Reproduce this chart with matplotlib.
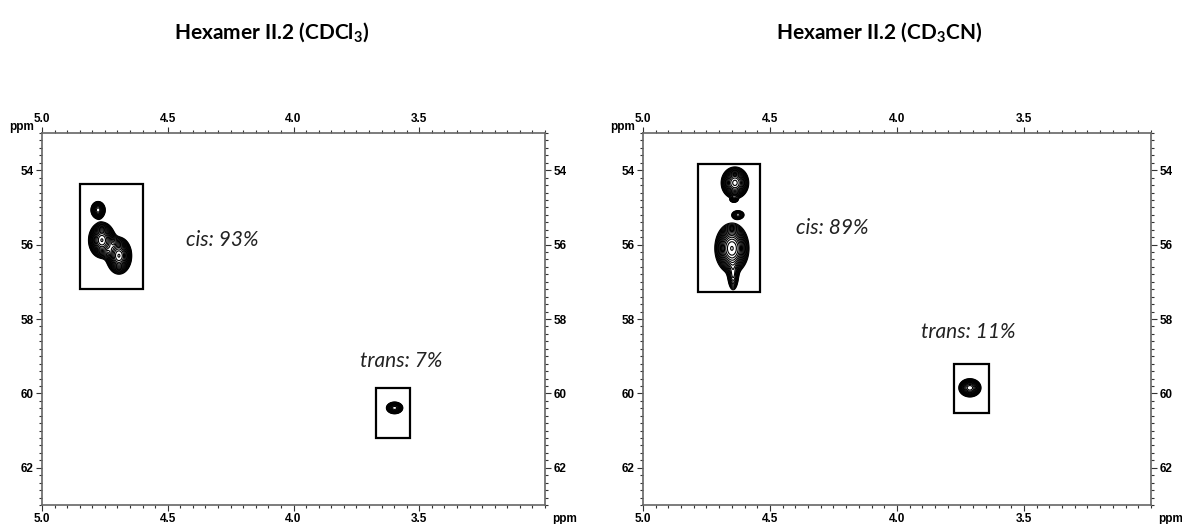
import numpy as np
import matplotlib
matplotlib.use('Agg')
import matplotlib.pyplot as plt
from matplotlib.ticker import MultipleLocator, FixedLocator, FormatStrFormatter
from matplotlib.patches import Rectangle

plt.rcParams['mathtext.fontset'] = 'custom'
plt.rcParams['mathtext.rm'] = 'Lato'
plt.rcParams['mathtext.bf'] = 'Lato:bold'

# ---- data (ppm) ----
titles = [r'Hexamer II.2 (CDCl$_\mathbf{3}$)', r'Hexamer II.2 (CD$_\mathbf{3}$CN)']
title_x = [272, 879]

h_ticks = [5.0, 4.5, 4.0, 3.5]

# peaks: centre 1H, centre 13C, full width 1H, full width 13C, relative height
peaks_cdcl3_h = [4.777, 4.762, 4.694, 3.598]
peaks_cdcl3_c = [55.07, 55.88, 56.30, 60.39]
peaks_cdcl3_wh = [0.052, 0.090, 0.086, 0.062]
peaks_cdcl3_wc = [0.42, 0.82, 0.84, 0.30]
peaks_cdcl3_amp = [0.7, 1.0, 1.0, 0.6]

peaks_cd3cn_h = [4.638, 4.642, 4.626, 4.650, 4.645, 3.713]
peaks_cd3cn_c = [54.34, 54.80, 55.20, 56.10, 56.85, 59.85]
peaks_cd3cn_wh = [0.094, 0.032, 0.055, 0.114, 0.045, 0.080]
peaks_cd3cn_wc = [0.74, 0.14, 0.26, 1.15, 0.85, 0.45]
peaks_cd3cn_amp = [0.9, 0.25, 0.3, 1.0, 0.3, 0.7]

# integration boxes: (h_left, h_right, c_top, c_bottom)
boxes_cdcl3 = [(4.85, 4.60, 54.38, 57.20), (3.672, 3.537, 59.85, 61.20)]
boxes_cd3cn = [(4.783, 4.539, 53.83, 57.27), (3.776, 3.638, 59.21, 60.53)]

labels_cdcl3 = [('cis: 93%', 4.284, 55.88), ('trans: 7%', 3.573, 59.13)]
labels_cd3cn = [('cis: 89%', 4.256, 55.55), ('trans: 11%', 3.720, 58.35)]

panels = [
    (peaks_cdcl3_h, peaks_cdcl3_c, peaks_cdcl3_wh, peaks_cdcl3_wc, peaks_cdcl3_amp, boxes_cdcl3, labels_cdcl3),
    (peaks_cd3cn_h, peaks_cd3cn_c, peaks_cd3cn_wh, peaks_cd3cn_wc, peaks_cd3cn_amp, boxes_cd3cn, labels_cd3cn),
]

fig = plt.figure(figsize=(11.82, 5.24), dpi=100)
axes_pos = [[42, 545], [643, 1151]]
W, H = 1182.0, 524.0
top_px, bot_px = 133, 505

h = np.linspace(3.0, 5.0, 1000)
c = np.linspace(53.0, 63.0, 1000)
HH, CC = np.meshgrid(h, c)

for k, (ph, pc, pwh, pwc, pamp, boxes, labels) in enumerate(panels):
    x0, x1 = axes_pos[k]
    ax = fig.add_axes([x0 / W, 1 - bot_px / H, (x1 - x0) / W, (bot_px - top_px) / H])

    Z = np.zeros_like(HH)
    for ch, cc, wh, wc, a in zip(ph, pc, pwh, pwc, pamp):
        sh, sc = wh / 3.8, wc / 3.8
        Z += a * np.exp(-((HH - ch) ** 2) / (2 * sh ** 2) - ((CC - cc) ** 2) / (2 * sc ** 2))
    levels = 0.08 * 1.17 ** np.arange(18)
    ax.contour(HH, CC, Z, levels=levels, colors='black', linewidths=0.8)

    for hl, hr, ct, cb in boxes:
        ax.add_patch(Rectangle((hr, ct), hl - hr, cb - ct, fill=False,
                               edgecolor='black', linewidth=1.6))
    for txt, tx, ty in labels:
        ax.text(tx, ty, txt, fontsize=15, family='Lato', style='italic',
                ha='center', va='center', color='#222222')

    ax.set_xlim(5.0, 3.0)
    ax.set_ylim(63.0, 53.0)
    ax.xaxis.set_major_locator(FixedLocator(h_ticks))
    ax.xaxis.set_minor_locator(MultipleLocator(0.05))
    ax.yaxis.set_major_locator(MultipleLocator(2))
    ax.yaxis.set_minor_locator(MultipleLocator(0.2))
    ax.xaxis.set_major_formatter(FormatStrFormatter('%.1f'))
    ax.yaxis.set_major_formatter(FormatStrFormatter('%d'))
    ax.tick_params(which='both', top=True, right=True, labeltop=True, labelright=True,
                   direction='out', width=0.8, color='#333333')
    ax.tick_params(which='major', length=4, pad=2, labelsize=8.5)
    ax.tick_params(which='minor', length=2)
    for lab in ax.get_xticklabels() + ax.get_yticklabels():
        lab.set_fontweight('bold')
        lab.set_family('Liberation Sans')
    for sp in ax.spines.values():
        sp.set_color('#666666')
        sp.set_linewidth(1.2)

    fig.text((x0 - 20) / W, 1 - 127 / H, 'ppm', fontsize=8.5, fontweight='bold',
             family='Liberation Sans', ha='center', va='center')
    fig.text((x1 + 20) / W, 1 - 519 / H, 'ppm', fontsize=8.5, fontweight='bold',
             family='Liberation Sans', ha='center', va='center')
    fig.text(title_x[k] / W, 1 - 33 / H, titles[k], fontsize=15, fontweight='bold',
             family='Lato', ha='center', va='center')

fig.savefig('out.png', dpi=100, facecolor='white')
